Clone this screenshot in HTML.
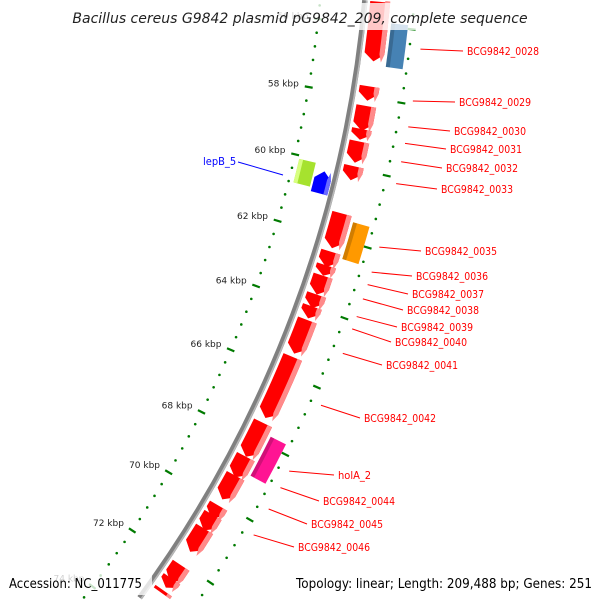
<!DOCTYPE html>
<html><head><meta charset="utf-8"><style>
html,body{margin:0;padding:0;background:#fff;width:600px;height:600px;overflow:hidden}
svg{display:block;overflow:hidden}
</style></head><body>
<svg id="map" width="600" height="600" viewBox="0 0 600 600" xmlns="http://www.w3.org/2000/svg">
<g id="ticks"></g>
<g id="backbone"></g>
<g id="genes"></g>
<g id="labels"></g>
<rect x="74" y="3" width="452" height="27" fill="#fff" fill-opacity="0.78"/>
<text x="300" y="23" text-anchor="middle" font-family="DejaVu Sans, Liberation Sans, sans-serif" font-style="italic" font-size="14" fill="#222">Bacillus cereus G9842 plasmid pG9842_209, complete sequence</text>
<rect x="4" y="571" width="148" height="24" fill="#fff" fill-opacity="0.78"/>
<rect x="292" y="571" width="305" height="24" fill="#fff" fill-opacity="0.78"/>
<text x="9" y="588" font-family="DejaVu Sans, Liberation Sans, sans-serif" font-size="13" fill="#000" textLength="133" lengthAdjust="spacingAndGlyphs">Accession: NC_011775</text>
<text x="592" y="588" text-anchor="end" font-family="DejaVu Sans, Liberation Sans, sans-serif" font-size="13" fill="#000" textLength="296" lengthAdjust="spacingAndGlyphs">Topology: linear; Length: 209,488 bp; Genes: 251</text>
</svg>
<script>
const seqLength = 209.488;
const tickLabelsKbp = [56,58,60,62,64,66,68,70,72,74];
const geneNames = ["BCG9842_0028","BCG9842_0029","BCG9842_0030","BCG9842_0031","BCG9842_0032","BCG9842_0033","BCG9842_0035","BCG9842_0036","BCG9842_0037","BCG9842_0038","BCG9842_0039","BCG9842_0040","BCG9842_0041","BCG9842_0042","BCG9842_0043","BCG9842_0044","BCG9842_0045","BCG9842_0046","BCG9842_0047","BCG9842_0048","BCG9842_0049","BCG9842_0050","BCG9842_0051"];
const geneStarts = [54.3,57.7,58.25,58.9,59.25,59.95,61.3,62.4,62.8,63.1,63.65,64.0,64.4,65.5,67.5,68.55,69.15,70.1,70.4,70.85,72.05,72.5,72.9];
const geneEnds   = [57.0,58.1,58.95,59.2,59.85,60.35,62.3,62.85,63.1,63.65,64.05,64.35,65.4,67.35,68.55,69.2,69.9,70.5,70.9,71.6,72.6,72.8,73.35];
const boxNames = ["BCG9842_0028b","BCG9842_0035b","holA_2"];
const boxStarts = [55.9,61.45,67.75];
const boxEnds = [57.1,62.5,68.95];
const boxColors = ["#4682b4","#ff9900","#ff1493"];
const labelTexts = ["BCG9842_0028","BCG9842_0029","BCG9842_0030","BCG9842_0031","BCG9842_0032","BCG9842_0033","BCG9842_0035","BCG9842_0036","BCG9842_0037","BCG9842_0038","BCG9842_0039","BCG9842_0040","BCG9842_0041","BCG9842_0042","holA_2","BCG9842_0044","BCG9842_0045","BCG9842_0046"];
const labelX = [467,459,454,450,446,441,425,416,412,407,401,395,386,364,338,323,311,298];
const labelY = [51,102,131,149,168,189,251,276,294,310,327,342,365,418,475,501,524,547];
const labelAnchorKbp = [56.5,57.9,58.6,59.05,59.55,60.15,61.9,62.6,62.95,63.35,63.85,64.2,64.9,66.4,68.35,68.85,69.5,70.3];

const NS="http://www.w3.org/2000/svg";
const CX=-820, CY=-105.3, R_BB=1189.6;
function ang(k){return (k/seqLength*360-90)*Math.PI/180;}
function pt(k,r){const a=ang(k);return [CX+r*Math.cos(a),CY+r*Math.sin(a)];}
// kbp at which radius r crosses screen y
function kAtY(y,r){return (Math.asin((y-CY)/r)*180/Math.PI+90)*seqLength/360;}
function inFrame(p){return p[0]>=1&&p[0]<=599&&p[1]>=1&&p[1]<=599;}
function mk(tag,attrs,parent){const e=document.createElementNS(NS,tag);for(const k in attrs)e.setAttribute(k,attrs[k]);parent.appendChild(e);return e;}
function arcPath(k1,k2,r){const p1=pt(k1,r),p2=pt(k2,r);return `M${p1[0]},${p1[1]} A${r},${r} 0 0 1 ${p2[0]},${p2[1]}`;}
function gene(k1,k2,r1,r2,arrow){
  const lo=kAtY(1,r1)>kAtY(1,r2)?kAtY(1,r1):kAtY(1,r2);
  const hi=Math.min(kAtY(599,r1),kAtY(599,r2));
  let cut=false;
  if(k1<lo)k1=lo;
  if(k2>hi){k2=hi;cut=true;}
  if(cut&&arrow===1)arrow=0;
  const len=k2-k1; const h=Math.min(0.22,len*0.6); const rm=(r1+r2)/2;
  let d;
  if(arrow===1){const a=pt(k1,r1),b=pt(k2-h,r1),c=pt(k2,rm),e=pt(k2-h,r2),f=pt(k1,r2);
    d=`M${a} A${r1},${r1} 0 0 1 ${b} L${c} L${e} A${r2},${r2} 0 0 0 ${f} Z`;}
  else if(arrow===-1){const a=pt(k1,rm),b=pt(k1+h,r1),c=pt(k2,r1),e=pt(k2,r2),f=pt(k1+h,r2);
    d=`M${a} L${b} A${r1},${r1} 0 0 1 ${c} L${e} A${r2},${r2} 0 0 0 ${f} Z`;}
  else{const a=pt(k1,r1),b=pt(k2,r1),c=pt(k2,r2),e=pt(k1,r2);
    d=`M${a} A${r1},${r1} 0 0 1 ${b} L${c} A${r2},${r2} 0 0 0 ${e} Z`;}
  return d;
}
const gT=document.getElementById('ticks'),gB=document.getElementById('backbone'),gG=document.getElementById('genes'),gL=document.getElementById('labels');

[1145,1239].forEach((r)=>{
  for(let i=Math.round(54*5);i<=Math.round(75*5);i++){
    const k=i/5;
    if(Math.abs(k/2-Math.round(k/2))<1e-6){
      const a=pt(k,r-4),b=pt(k,r+4);
      if(!inFrame(a)||!inFrame(b))continue;
      const l=mk('line',{x1:a[0],y1:a[1],x2:b[0],y2:b[1],stroke:'#007a00','stroke-width':2.2},gT);
      
      
    } else if(i%2===0){
      const a=pt(k,r);
      if(!inFrame(a))continue;
      const c=mk('circle',{cx:a[0],cy:a[1],r:1.3,fill:'#007a00'},gT);
      
      
    }
  }
});
tickLabelsKbp.forEach(k=>{
  const p=pt(k,1145-10);
  if(p[1]<10||p[1]>597||p[0]<35)return;
  const t=mk('text',{x:p[0],y:p[1]+1,'text-anchor':'end','font-family':'DejaVu Sans, Liberation Sans, sans-serif','font-size':9,fill:'#222'},gT);
  t.textContent=k+' kbp';
  
  
});

mk('path',{d:arcPath(kAtY(0.5,R_BB+3),kAtY(599.5,R_BB+3),R_BB),fill:'none',stroke:'#808080','stroke-width':5.5},gB);
mk('path',{d:arcPath(kAtY(0.5,R_BB+3),kAtY(599.5,R_BB+3),R_BB+1.8),fill:'none',stroke:'#b8b8b8','stroke-width':1.6},gB);

geneStarts.forEach((s,i)=>{
  const e=geneEnds[i];
  const p=mk('path',{d:gene(s,e,1195,1215,1),fill:'#ff0000'},gG);
  
  
  mk('path',{d:gene(s,e,1210,1215,1),fill:'#ff8a8a'},gG);
});
boxStarts.forEach((s,i)=>{
  const p=mk('path',{d:gene(s,boxEnds[i],1218,1235,0),fill:boxColors[i]},gG);
  
  
  mk('path',{d:gene(s,boxEnds[i],1218,1222,0),fill:'#000','fill-opacity':0.18},gG);
});
const lepStarts=[60.1,60.28], lepEnds=[60.8,60.92];
const g1=mk('path',{d:gene(lepStarts[0],lepEnds[0],1150,1167,0),fill:'#a6e22e'},gG);


mk('path',{d:gene(lepStarts[0],lepEnds[0],1150,1154,0),fill:'#d8ff80'},gG);
const g2=mk('path',{d:gene(lepStarts[1],lepEnds[1],1169,1186,-1),fill:'#0000ff'},gG);


mk('path',{d:gene(lepStarts[1],lepEnds[1],1182,1186,-1),fill:'#6a6aff'},gG);

labelTexts.forEach((txt,i)=>{
  const a=pt(labelAnchorKbp[i],1250);
  const l=mk('line',{x1:a[0],y1:a[1],x2:labelX[i]-4,y2:labelY[i],stroke:'#ff0000','stroke-width':1},gL);
  
  
  const t=mk('text',{x:labelX[i],y:labelY[i]+4,'font-family':'DejaVu Sans Condensed, DejaVu Sans, Liberation Sans, sans-serif','font-size':11,fill:'#ff0000'},gL);
  if(txt.length===12){t.setAttribute('textLength',72);t.setAttribute('lengthAdjust','spacingAndGlyphs');}
  t.textContent=txt;
  
  
});
const lb=mk('line',{x1:238,y1:162,x2:283,y2:175,stroke:'#0000ff','stroke-width':1},gL);


const lt=mk('text',{x:203,y:165,'font-family':'DejaVu Sans Condensed, DejaVu Sans, Liberation Sans, sans-serif','font-size':11,fill:'#0000ff'},gL);
lt.textContent='lepB_5';


</script>
</body></html>
